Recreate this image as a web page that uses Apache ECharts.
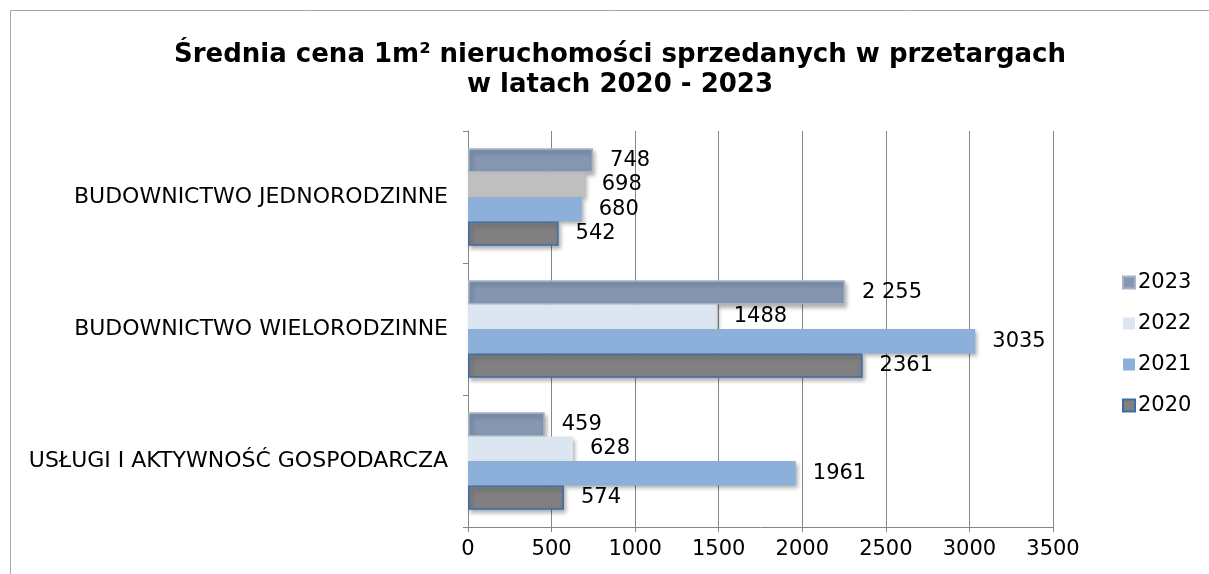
<!DOCTYPE html>
<html style="height: 100%">
<head>
    <meta charset="utf-8">
    <script src="https://cdn.jsdelivr.net/npm/echarts@6/dist/echarts.min.js"></script>
</head>
<body style="height: 100%; margin: 0; background: #fff">
    <div id="main" style="width: 1209px; height: 574px"></div>
    <script type="text/javascript">
        var categories = ['BUDOWNICTWO JEDNORODZINNE', 'BUDOWNICTWO WIELORODZINNE', 'USŁUGI I AKTYWNOŚĆ GOSPODARCZA'];
        var years = ['2023', '2022', '2021', '2020'];
        var v2023 = [748, 2255, 459];
        var v2022 = [698, 1488, 628];
        var v2021 = [680, 3035, 1961];
        var v2020 = [542, 2361, 574];
        var xTicks = [0, 500, 1000, 1500, 2000, 2500, 3000, 3500];

        var font = 'DejaVu Sans, Verdana, sans-serif';
        var myChart = echarts.init(document.getElementById('main'));

        function fmt(p) {
            // 2023 shows a thousands space in the original
            if (p.seriesName === '2023' && p.value >= 1000) {
                return String(p.value).replace(/\B(?=(\d{3})+(?!\d))/g, ' ');
            }
            return p.value;
        }

        var styles = {
            '2023': { color: '#8496b0', borderColor: '#a7b5c9', borderWidth: 1.5 },
            '2022': { color: '#dce6f1', borderColor: '#dce6f1', borderWidth: 0 },
            '2021': { color: '#8db0da', borderColor: '#8db0da', borderWidth: 0 },
            '2020': { color: '#808080', borderColor: '#3c6ca6', borderWidth: 1.5 }
        };
        var values = { '2023': v2023, '2022': v2022, '2021': v2021, '2020': v2020 };

        var series = years.map(function (y) {
            var data = values[y].map(function (v, i) {
                var item = { value: v };
                if (y === '2022' && i === 0) {
                    item.itemStyle = { color: '#bfbfbf', borderColor: '#bfbfbf' };
                }
                return item;
            });
            return {
                name: y,
                type: 'bar',
                data: data,
                barGap: '0%',
                barCategoryGap: '26%',
                itemStyle: Object.assign({
                    shadowColor: 'rgba(0,0,0,0.3)',
                    shadowBlur: 4,
                    shadowOffsetX: 2,
                    shadowOffsetY: 3
                }, styles[y]),
                label: {
                    show: true,
                    position: 'right',
                    distance: 17,
                    fontFamily: font,
                    fontSize: 21,
                    color: '#000',
                    formatter: fmt
                }
            };
        });

        var option = {
            animation: false,
            title: {
                text: 'Średnia cena 1m² nieruchomości sprzedanych w przetargach\nw latach 2020 - 2023',
                left: 615,
                textAlign: 'center',
                top: 35,
                textStyle: {
                    fontFamily: font,
                    fontWeight: 'bold',
                    fontSize: 26,
                    lineHeight: 30,
                    color: '#000'
                }
            },
            graphic: [{
                type: 'rect',
                shape: { x: 10.5, y: 10.5, width: 1300, height: 700 },
                style: { fill: 'none', stroke: '#a6a6a6', lineWidth: 1 },
                silent: true
            }],
            legend: {
                data: years,
                orient: 'vertical',
                left: 1117,
                top: 267,
                itemWidth: 12,
                itemHeight: 12,
                itemGap: 20,
                icon: 'rect',
                textStyle: { fontFamily: font, fontSize: 21, color: '#000', padding: [0, 0, 0, -2] }
            },
            grid: {
                left: 468,
                right: 156,
                top: 131,
                bottom: 47,
                containLabel: false
            },
            xAxis: {
                type: 'value',
                min: 0,
                max: 3500,
                interval: 500,
                axisLine: { show: true, lineStyle: { color: '#868686' } },
                axisTick: { show: true, length: 5, lineStyle: { color: '#868686' } },
                splitLine: { show: true, lineStyle: { color: '#868686', width: 1 } },
                axisLabel: {
                    fontFamily: font,
                    fontSize: 21,
                    color: '#000',
                    margin: 12,
                    formatter: function (v) { return xTicks.indexOf(v) >= 0 ? v : ''; }
                }
            },
            yAxis: {
                type: 'category',
                data: categories,
                inverse: true,
                axisLine: { show: true, lineStyle: { color: '#868686' } },
                axisTick: { show: true, length: 5, lineStyle: { color: '#868686' } },
                axisLabel: {
                    fontFamily: font,
                    fontSize: 22,
                    color: '#000',
                    margin: 20
                }
            },
            series: series
        };
        myChart.setOption(option);
    </script>
</body>
</html>
